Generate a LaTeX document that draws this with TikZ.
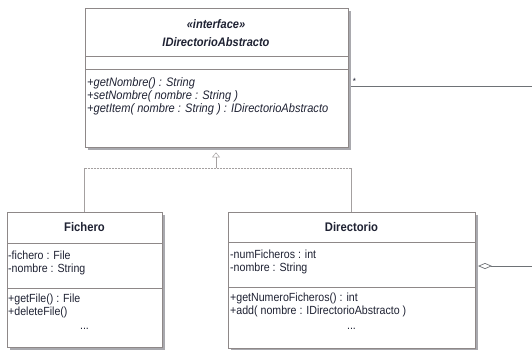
\documentclass[tikz,border=0pt]{standalone}
\usepackage{fontspec}
\setmainfont{Liberation Sans}[FakeStretch=0.9]
\usetikzlibrary{arrows.meta, shadows, calc, positioning}
\definecolor{umlborder}{HTML}{8E8888}
\definecolor{umltext}{HTML}{1F2233}
\definecolor{umlline}{HTML}{6E7276}
\definecolor{umlshadow}{HTML}{A9A9AE}

\tikzset{
  umlclass/.style={draw=umlborder,fill=white,anchor=north west,inner sep=0pt,
    drop shadow={shadow xshift=3pt,shadow yshift=-3pt,fill=umlshadow,opacity=1}},
  umltitle/.style={font=\fontsize{12.5}{14}\selectfont\bfseries,text=umltext,inner sep=0pt},
  umlitem/.style={font=\fontsize{11.8}{13}\selectfont,text=umltext,anchor=west,
    align=left,inner sep=0pt},
  umlop/.style={font=\fontsize{12.3}{13}\selectfont\itshape,text=umltext,anchor=west,
    align=left,inner sep=0pt},
  assocline/.style={umlline,line width=0.7pt},
  genline/.style={umlborder!80,line width=0.5pt},
}

\begin{document}
\begin{tikzpicture}[x=1pt,y=-1pt]
    \useasboundingbox (0,0) rectangle (532,349);
    % interfaz
    \node[umlclass,minimum width=263pt,minimum height=139pt] (iface) at (85,8) {};
    \draw[umlborder] (85,56) -- (348,56);
    \draw[umlborder] (85,69) -- (348,69);
    \node[umltitle,font=\fontsize{12.3}{14}\selectfont\bfseries\itshape] (ifaceStereo) at (216,24) {«interface»};
    \node[umltitle,font=\fontsize{12.3}{14}\selectfont\bfseries\itshape] (ifaceName) at (216,42) {IDirectorioAbstracto};
    \node[umlop] (ifaceOps) at (87,96) {+getNombre() : String\\+setNombre( nombre : String )\\+getItem( nombre : String ) : IDirectorioAbstracto};
    % Fichero
    \node[umlclass,minimum width=155pt,minimum height=135pt] (fichero) at (7,212) {};
    \draw[umlborder] (7,243) -- (162,243);
    \draw[umlborder] (7,288) -- (162,288);
    \node[umltitle] (ficheroName) at (84.5,227) {Fichero};
    \node[umlitem] (ficheroAttr) at (8,263) {-fichero : File\\-nombre : String};
    \node[umlitem] (ficheroOps) at (8,306) {+getFile() : File\\+deleteFile()};
    \node[umlitem,anchor=center] (ficheroMore) at (84.5,329) {...};
    % Directorio
    \node[umlclass,minimum width=247pt,minimum height=136pt] (directorio) at (228,212) {};
    \draw[umlborder] (228,242) -- (475,242);
    \draw[umlborder] (228,287) -- (475,287);
    \node[umltitle] (directorioName) at (351.5,227) {Directorio};
    \node[umlitem] (directorioAttr) at (230,262) {-numFicheros : int\\-nombre : String};
    \node[umlitem] (directorioOps) at (230,305) {+getNumeroFicheros() : int\\+add( nombre : IDirectorioAbstracto )};
    \node[umlitem,anchor=center] (directorioMore) at (351.5,329) {...};
    % herencia
    \coordinate (gen) at (216,168);
    \draw[genline] (fichero.north) -- (fichero.north |- gen);
    \draw[genline,densely dotted] (fichero.north |- gen) -- (directorio.north |- gen);
    \draw[genline] (directorio.north |- gen) -- (directorio.north);
    \draw[genline,-{Triangle[open,length=5pt,width=8pt]},shorten >=5pt] (gen) -- (gen |- iface.south);
    % asociaciones
    \coordinate (ifaceRight) at (351,86);
    \coordinate (outTop) at (532,86);
    \draw[assocline] (ifaceRight) -- (outTop) node[pos=0,above right,font=\small,text=umltext,inner sep=1.5pt] (starLabel) {*};
    \coordinate (dirRight) at (478,266);
    \coordinate (outBottom) at (532,266);
    \draw[assocline,{Diamond[open,length=14pt,width=6pt]}-] (dirRight) -- (outBottom);
\end{tikzpicture}
\end{document}
